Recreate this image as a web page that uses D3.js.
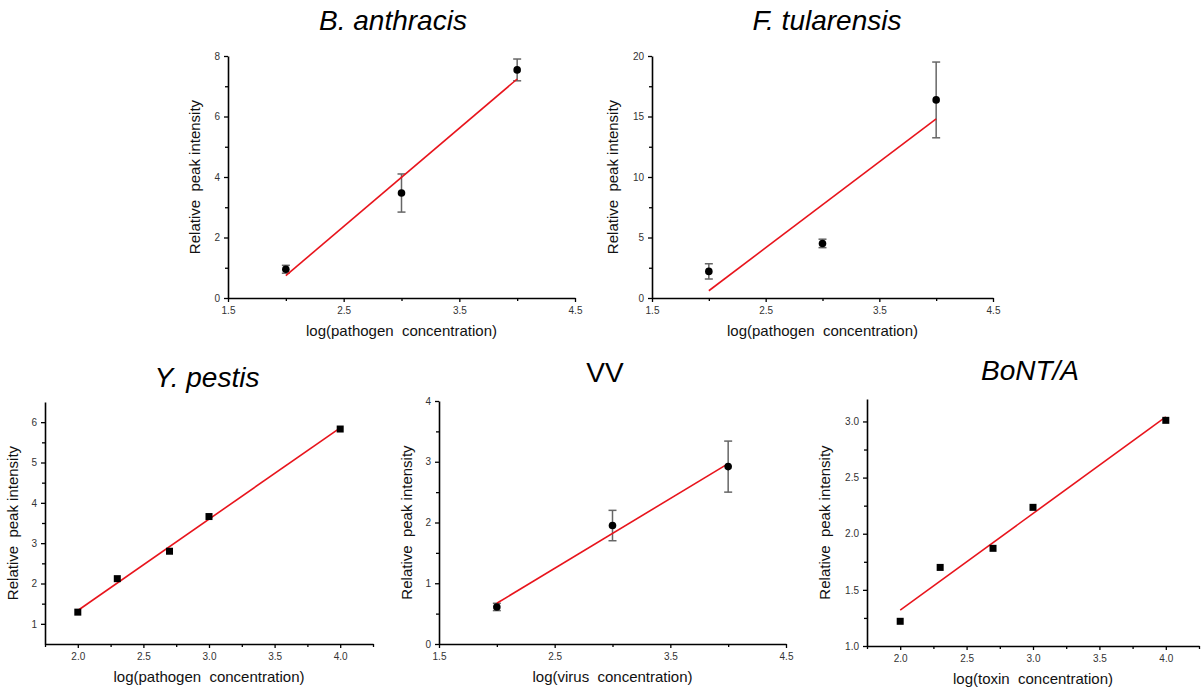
<!DOCTYPE html>
<html>
<head>
<meta charset="utf-8">
<script src="https://cdn.jsdelivr.net/npm/d3@7"></script>
<style>
  body { margin: 0; background: #fff; }
  svg { display: block; font-family: "Liberation Sans", Arial, sans-serif; }
  .tick text { fill: #333; font-size: 10px; }
  .title { font-size: 28px; fill: #000; }
  .axis-title { font-size: 15px; fill: #111; }
</style>
</head>
<body>
<svg id="chart" width="1201" height="687"></svg>
<script>
// B. anthracis
var baX = [2, 3, 4];
var baY = [0.95, 3.47, 7.54];
var baErr = [0.13, 0.63, 0.36];
var baFit = [0.74, 7.24];

// F. tularensis
var ftX = [2, 3, 4];
var ftY = [2.2, 4.51, 16.37];
var ftErr = [0.63, 0.35, 3.13];
var ftFit = [0.6, 14.8];

// Y. pestis
var ypX = [2.0, 2.301, 2.699, 3.0, 4.0];
var ypY = [1.29, 2.12, 2.80, 3.66, 5.83];
var ypFit = [1.33, 5.86];

// VV
var vvX = [2, 3, 4];
var vvY = [0.61, 1.95, 2.92];
var vvErr = [0.06, 0.25, 0.42];
var vvFit = [0.67, 2.97];

// BoNT/A
var btX = [2.0, 2.301, 2.699, 3.0, 4.0];
var btY = [1.22, 1.70, 1.87, 2.235, 3.01];
var btFit = [1.32, 3.04];

// fit range
var fitX = [2, 4];

// tick values
var xTicksWide = [1.5, 2.5, 3.5, 4.5];
var xMinorWide = [2, 3, 4];
var xTicksNarrow = [2.0, 2.5, 3.0, 3.5, 4.0];
var xMinorNarrow = [1.75, 2.25, 2.75, 3.25, 3.75, 4.25];
var baTicks = [0, 2, 4, 6, 8];
var baMinor = [1, 3, 5, 7];
var ftTicks = [0, 5, 10, 15, 20];
var ftMinor = [2.5, 7.5, 12.5, 17.5];
var ypTicks = [1, 2, 3, 4, 5, 6];
var ypMinor = [1.5, 2.5, 3.5, 4.5, 5.5];
var vvTicks = [0, 1, 2, 3, 4];
var vvMinor = [0.5, 1.5, 2.5, 3.5];
var btTicks = [1.0, 1.5, 2.0, 2.5, 3.0];
var btMinor = [1.25, 1.75, 2.25, 2.75];

var svg = d3.select('#chart');

var panels = [
  { title: 'B. anthracis', italic: true, tx: 393, ty: 30,
    x0: 228, x1: 575, y0: 298, y1: 56, xd: [1.5, 4.5], yd: [0, 8],
    xt: xTicksWide, xm: xMinorWide, yt: baTicks, ym: baMinor, fmtX: d3.format('.1f'), fmtY: d3.format('d'),
    xs: baX, ys: baY, err: baErr, fit: baFit, mark: 'circle', yOff: 28,
    xlab: 'log(pathogen\u00a0\u00a0concentration)' },
  { title: 'F. tularensis', italic: true, tx: 827, ty: 30,
    x0: 652, x1: 993, y0: 298, y1: 56, xd: [1.5, 4.5], yd: [0, 20],
    xt: xTicksWide, xm: xMinorWide, yt: ftTicks, ym: ftMinor, fmtX: d3.format('.1f'), fmtY: d3.format('d'),
    xs: ftX, ys: ftY, err: ftErr, fit: ftFit, mark: 'circle', yOff: 34,
    xlab: 'log(pathogen\u00a0\u00a0concentration)' },
  { title: 'Y. pestis', italic: true, tx: 207, ty: 387,
    x0: 45, x1: 373, y0: 644, y1: 402, xd: [1.75, 4.25], yd: [0.5, 6.5],
    xt: xTicksNarrow, xm: xMinorNarrow, yt: ypTicks, ym: ypMinor, fmtX: d3.format('.1f'), fmtY: d3.format('d'),
    xs: ypX, ys: ypY, err: null, fit: ypFit, mark: 'square', yOff: 27,
    xlab: 'log(pathogen\u00a0\u00a0concentration)' },
  { title: 'VV', italic: false, tx: 605, ty: 382,
    x0: 439, x1: 786, y0: 644, y1: 401, xd: [1.5, 4.5], yd: [0, 4],
    xt: xTicksWide, xm: xMinorWide, yt: vvTicks, ym: vvMinor, fmtX: d3.format('.1f'), fmtY: d3.format('d'),
    xs: vvX, ys: vvY, err: vvErr, fit: vvFit, mark: 'circle', yOff: 27,
    xlab: 'log(virus\u00a0\u00a0concentration)' },
  { title: 'BoNT/A', italic: true, tx: 1030, ty: 380,
    x0: 867, x1: 1199, y0: 646, y1: 399, xd: [1.75, 4.25], yd: [1.0, 3.2],
    xt: xTicksNarrow, xm: xMinorNarrow, yt: btTicks, ym: btMinor, fmtX: d3.format('.1f'), fmtY: d3.format('.1f'),
    xs: btX, ys: btY, err: null, fit: btFit, mark: 'square', yOff: 37,
    xlab: 'log(toxin\u00a0\u00a0concentration)' }
];

panels.forEach(drawPanel);

function drawPanel(p) {
  var x = d3.scaleLinear().domain(p.xd).range([p.x0, p.x1]);
  var y = d3.scaleLinear().domain(p.yd).range([p.y0, p.y1]);
  var g = svg.append('g');

  // title
  g.append('text')
    .attr('class', 'title')
    .attr('x', p.tx)
    .attr('y', p.ty)
    .attr('text-anchor', 'middle')
    .style('font-style', p.italic ? 'italic' : 'normal')
    .text(p.title);

  // minor ticks
  g.append('g')
    .attr('transform', 'translate(0,' + p.y0 + ')')
    .call(d3.axisBottom(x).tickValues(p.xm).tickSize(3).tickFormat(''))
    .call(function(a) { a.select('.domain').remove(); });
  g.append('g')
    .attr('transform', 'translate(' + p.x0 + ',0)')
    .call(d3.axisLeft(y).tickValues(p.ym).tickSize(3).tickFormat(''))
    .call(function(a) { a.select('.domain').remove(); });

  // major axes
  var xa = g.append('g')
    .attr('transform', 'translate(0,' + p.y0 + ')')
    .call(d3.axisBottom(x).tickValues(p.xt).tickSize(4).tickSizeOuter(0).tickPadding(5).tickFormat(p.fmtX));
  var ya = g.append('g')
    .attr('transform', 'translate(' + p.x0 + ',0)')
    .call(d3.axisLeft(y).tickValues(p.yt).tickSize(4).tickSizeOuter(0).tickPadding(4).tickFormat(p.fmtY));
  g.selectAll('.domain').attr('stroke', '#000').attr('stroke-width', 1.6);
  g.selectAll('.tick line').attr('stroke', '#000').attr('stroke-width', 1.3);

  // axis titles
  g.append('text')
    .attr('class', 'axis-title')
    .attr('x', (p.x0 + p.x1) / 2)
    .attr('y', p.y0 + 38)
    .attr('text-anchor', 'middle')
    .text(p.xlab);
  g.append('text')
    .attr('class', 'axis-title')
    .attr('transform', 'translate(' + (p.x0 - p.yOff) + ',' + ((p.y0 + p.y1) / 2) + ') rotate(-90)')
    .attr('text-anchor', 'middle')
    .text('Relative\u00a0\u00a0peak intensity');

  // error bars
  if (p.err) {
    var eb = g.append('g').attr('stroke', '#666').attr('stroke-width', 1.5);
    p.xs.forEach(function(xv, i) {
      var top = y(p.ys[i] + p.err[i]);
      var bot = y(p.ys[i] - p.err[i]);
      eb.append('line').attr('x1', x(xv)).attr('x2', x(xv)).attr('y1', top).attr('y2', bot);
      eb.append('line').attr('x1', x(xv) - 4).attr('x2', x(xv) + 4).attr('y1', top).attr('y2', top);
      eb.append('line').attr('x1', x(xv) - 4).attr('x2', x(xv) + 4).attr('y1', bot).attr('y2', bot);
    });
  }

  // fit line
  g.append('line')
    .attr('x1', x(fitX[0])).attr('y1', y(p.fit[0]))
    .attr('x2', x(fitX[1])).attr('y2', y(p.fit[1]))
    .attr('stroke', '#e8141c')
    .attr('stroke-width', 1.6);

  // points
  if (p.mark === 'circle') {
    g.selectAll('circle.pt')
      .data(p.xs)
      .enter()
      .append('circle')
        .classed('pt', true)
        .attr('cx', function(d) { return x(d); })
        .attr('cy', function(d, i) { return y(p.ys[i]); })
        .attr('r', 3.8)
        .style('fill', '#000');
  } else {
    g.selectAll('rect.pt')
      .data(p.xs)
      .enter()
      .append('rect')
        .classed('pt', true)
        .attr('x', function(d) { return x(d) - 3.5; })
        .attr('y', function(d, i) { return y(p.ys[i]) - 3.5; })
        .attr('width', 7)
        .attr('height', 7)
        .style('fill', '#000');
  }
}
</script>
</body>
</html>
